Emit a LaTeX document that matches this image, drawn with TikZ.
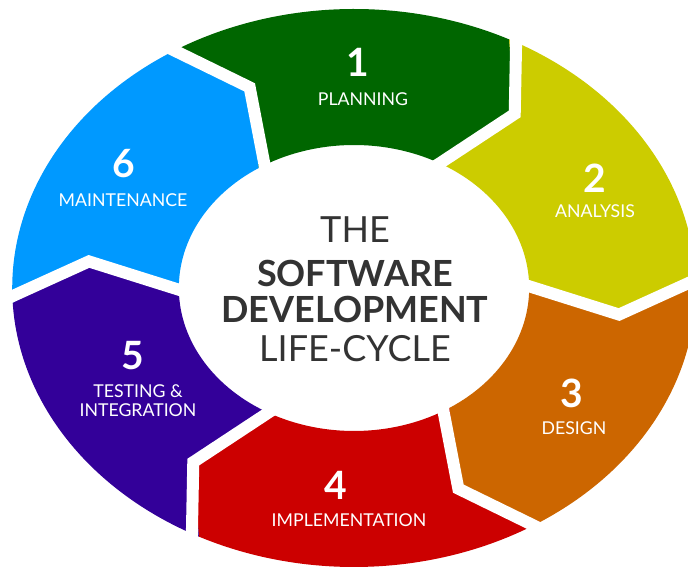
\documentclass[tikz,border=0pt]{standalone}
\usepackage{fontspec}
\setmainfont{Lato}
\definecolor{cgreen}{HTML}{006600}
\definecolor{cyellow}{HTML}{CCCC00}
\definecolor{corange}{HTML}{CC6600}
\definecolor{cred}{HTML}{CC0000}
\definecolor{cpurple}{HTML}{330099}
\definecolor{cblue}{HTML}{0099FF}
\definecolor{ctext}{HTML}{333333}
\tikzset{
  num/.style={text=white, inner sep=0pt, anchor=base, font=\bfseries\fontsize{39}{39}\selectfont},
  lab/.style={text=white, inner sep=0pt, anchor=base, font=\fontsize{17.7}{17.7}\selectfont},
  ctrreg/.style={text=ctext, inner sep=0pt, anchor=base, font=\fontsize{36}{36}\selectfont},
  ctrbold/.style={text=ctext, inner sep=0pt, anchor=base, font=\bfseries\fontsize{36}{36}\selectfont},
  gapline/.style={draw=white, line width=12pt, line join=miter}
}
\begin{document}
\begin{tikzpicture}[x=1pt,y=1pt]
\useasboundingbox (0,0) rectangle (688,569);
\fill[white] (0,0) rectangle (688,569);
\begin{scope}[shift={(354,281)}, xscale=1.225]
  \foreach \a/\c in {123/cgreen, 63/cyellow, 3/corange, -57/cred, -117/cpurple, -177/cblue} {
    \pgfmathsetmacro\b{\a-60}
    \pgfmathsetmacro\at{\a-10}
    \pgfmathsetmacro\bt{\b-10}
    \fill[\c] (\a:279) arc[start angle=\a, end angle=\b, radius=279]
      -- (\bt:218) -- (\b:143) arc[start angle=\b, end angle=\a, radius=143]
      -- (\at:218) -- cycle;
  }
  \foreach \a in {123, 63, 3, -57, -117, -177} {
    \pgfmathsetmacro\at{\a-10}
    \draw[gapline] (\a:292) -- (\at:218) -- (\a:130);
  }
\end{scope}
% numbers
\node[num] (n1) at (358,{569-77}) {1};
\node[num] (n2) at (595,{569-193}) {2};
\node[num] (n3) at (572,{569-408}) {3};
\node[num] (n4) at (336,{569-500}) {4};
\node[num] (n5) at (133,{569-370}) {5};
\node[num] (n6) at (124,{569-178}) {6};
% labels
\node[lab] (l1) at (363,{569-106}) {PLANNING};
\node[lab] (l2) at (595,{569-218}) {ANALYSIS};
\node[lab] (l3) at (574,{569-435}) {DESIGN};
\node[lab] (l4) at (349,{569-527}) {IMPLEMENTATION};
\node[lab] (l5a) at (138,{569-398}) {TESTING \&};
\node[lab] (l5b) at (138,{569-417}) {INTEGRATION};
\node[lab] (l6) at (123,{569-207}) {MAINTENANCE};
% centre title
\node[ctrreg] (t1) at (355,{569-243}) {THE};
\node[ctrbold] (t2) at (355,{569-287}) {SOFTWARE};
\node[ctrbold] (t3) at (355,{569-323}) {DEVELOPMENT};
\node[ctrreg] (t4) at (355,{569-362}) {LIFE-CYCLE};
\end{tikzpicture}
\end{document}
